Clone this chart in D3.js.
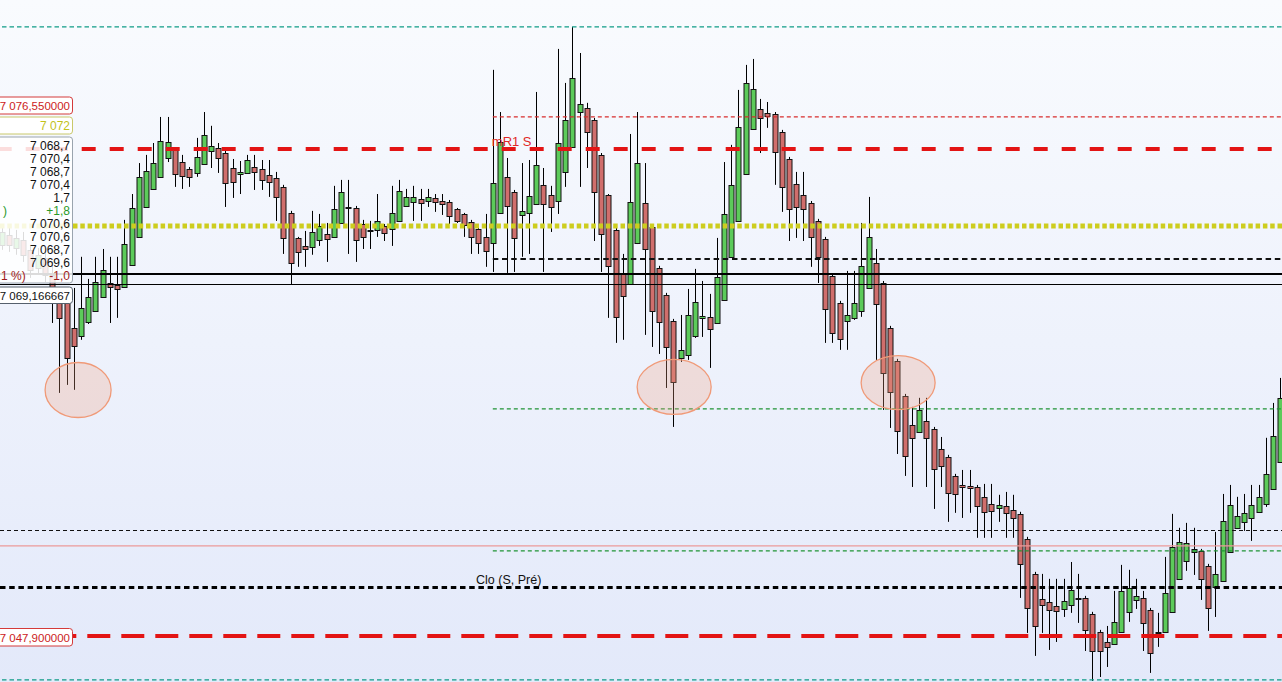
<!DOCTYPE html>
<html><head><meta charset="utf-8">
<script src="https://cdn.jsdelivr.net/npm/d3@7/dist/d3.min.js"></script>
<style>html,body{margin:0;padding:0;overflow:hidden;background:#fff}svg{display:block}</style>
</head><body>
<svg id="chart" width="1282" height="682"></svg>
<script>
// ---------- DATA ----------
const firstBar = -7;   // bar number of the first value below
const openP = [
7070.89,7071.48,7070.71,7071.18,7070.60,7069.54,7070.13,
7069.13,7067.77,7067.66,7066.01,7065.54,7066.36,7067.01,7067.83,7068.65,7068.54,
7068.42,7069.72,7071.36,7073.12,7074.18,7074.89,7076.00,7076.47,7075.76,7075.35,
7075.12,7075.64,7076.41,7076.59,7076.29,7075.41,7075.06,7075.12,7075.47,7075.35,
7075.00,7074.83,7074.30,7072.77,7071.30,7070.83,7070.77,7071.18,7071.53,7071.36,
7072.18,7073.09,7073.06,7072.12,7071.77,7071.77,7072.01,7071.83,7072.30,7073.18,
7073.41,7073.59,7073.47,7073.65,7073.47,7073.41,7073.00,7072.71,7072.24,7071.83,
7071.36,7071.00,7072.77,7074.89,7074.00,7072.65,7072.77,7073.29,7074.42,7073.83,
7073.47,7075.18,7076.65,7078.70,7078.94,7078.24,7076.18,7073.83,7071.77,7069.24,
7068.59,7071.00,7073.35,7071.94,7069.54,7067.95,7066.42,7064.25,7064.42,7065.54,
7066.60,7066.66,7066.30,7067.66,7070.19,7072.30,7075.06,7077.71,7078.88,7078.65,
7078.59,7077.53,7075.94,7074.47,7073.83,7073.35,7072.30,7071.24,7069.07,7067.48,
7066.42,7066.60,7067.01,7068.36,7069.83,7068.65,7066.01,7064.07,7062.01,7060.31,
7059.90,7060.54,7060.07,7058.90,7058.43,7057.31,7056.78,7056.72,7056.66,7056.08,
7055.67,7055.43,7055.55,7055.31,7055.08,7053.61,7051.55,7050.08,7049.90,7049.67,
7049.49,7049.73,7050.14,7050.14,7049.20,7048.14,7047.55,7047.43,7048.14,7049.32,
7050.02,7050.14,7049.44,7048.14,7048.14,7049.32,7051.26,7052.31,7052.84,7052.90,
7052.02,7050.79,7051.14,7052.84,7054.26,7054.61,7054.84,7055.20,7055.67,7056.55,7058.13];
const highP = [
7072.07,7071.89,7071.77,7071.65,7070.89,7070.71,7070.48,
7069.89,7068.24,7068.12,7068.36,7070.19,7068.89,7070.19,7070.65,7070.19,7070.19,
7072.36,7073.88,7075.70,7076.18,7076.88,7078.41,7078.41,7076.59,7076.18,7075.47,
7077.18,7078.70,7077.89,7076.88,7076.41,7075.94,7075.82,7076.18,7076.18,7075.88,
7075.88,7075.18,7074.42,7072.89,7071.36,7071.71,7072.89,7072.71,7072.18,7074.36,
7074.71,7074.71,7073.18,7072.36,7072.30,7073.88,7072.12,7074.36,7074.71,7074.18,
7074.36,7074.18,7074.18,7073.88,7073.88,7073.53,7073.06,7072.77,7072.36,7071.89,
7072.71,7081.18,7078.70,7076.00,7074.12,7075.70,7075.88,7079.88,7075.41,7074.36,
7082.41,7080.41,7083.70,7082.17,7079.24,7078.35,7076.29,7073.88,7071.89,7070.36,
7077.41,7078.70,7075.70,7072.07,7069.66,7068.07,7066.54,7066.77,7068.30,7069.48,
7068.77,7068.01,7071.30,7075.76,7076.77,7080.00,7081.47,7081.82,7079.47,7079.29,
7078.70,7077.65,7076.06,7075.18,7075.18,7073.47,7072.42,7071.36,7069.18,7067.60,
7069.36,7069.36,7072.18,7073.71,7070.65,7068.77,7066.13,7064.19,7062.13,7061.37,
7061.90,7061.90,7060.19,7059.60,7058.55,7057.43,7057.66,7057.66,7056.78,7056.84,
7056.84,7056.20,7056.37,7056.20,7055.20,7053.73,7051.67,7051.55,7051.26,7051.26,
7051.26,7052.25,7051.55,7050.26,7049.32,7048.26,7048.49,7050.55,7052.08,7051.79,
7051.26,7050.55,7049.55,7049.26,7052.55,7055.08,7054.26,7054.55,7054.26,7053.02,
7052.14,7054.02,7056.25,7056.78,7056.08,7056.25,7056.78,7056.78,7059.55,7061.60,7063.07];
const lowP = [
7070.60,7070.48,7070.31,7069.89,7068.95,7069.13,7068.71,
7066.30,7062.19,7062.66,7062.37,7065.31,7066.24,7066.95,7067.77,7066.30,7066.60,
7068.36,7069.66,7071.30,7073.06,7074.12,7074.83,7075.76,7074.30,7074.18,7074.30,
7074.89,7075.59,7075.41,7075.12,7073.12,7073.65,7073.88,7075.06,7074.12,7074.12,
7073.71,7072.30,7070.36,7068.54,7069.60,7069.60,7070.31,7070.83,7069.89,7071.30,
7072.12,7070.36,7069.89,7070.65,7070.65,7071.36,7071.12,7070.83,7072.24,7073.12,
7072.30,7072.30,7073.12,7072.83,7072.65,7072.12,7072.18,7071.36,7070.36,7070.36,
7069.60,7069.30,7072.71,7069.24,7069.30,7070.19,7070.36,7073.24,7069.30,7071.65,
7072.71,7074.30,7076.59,7074.30,7075.41,7071.12,7069.30,7066.60,7065.13,7065.31,
7068.54,7070.94,7065.60,7064.89,7064.48,7062.48,7060.19,7064.01,7064.13,7065.42,
7065.48,7063.66,7066.24,7067.60,7070.13,7072.24,7075.00,7077.65,7076.29,7077.77,
7074.42,7072.83,7071.12,7071.30,7071.12,7069.60,7068.65,7065.13,7065.13,7064.72,
7064.72,7066.48,7066.66,7068.30,7064.13,7061.19,7060.13,7058.60,7057.31,7056.66,
7059.84,7056.66,7055.37,7056.66,7054.61,7055.14,7054.84,7055.14,7053.67,7053.67,
7053.67,7054.61,7053.67,7053.67,7050.14,7048.08,7046.73,7048.08,7047.08,7047.55,
7049.02,7049.26,7048.67,7047.02,7045.26,7045.49,7046.08,7047.37,7048.08,7048.73,
7049.49,7047.02,7045.73,7047.26,7048.08,7049.26,7051.20,7051.73,7051.49,7050.02,
7048.20,7049.02,7051.08,7052.78,7054.20,7054.08,7053.49,7055.14,7055.49,7056.49,7058.08];
const closeP = [
7071.65,7070.89,7071.30,7070.31,7069.42,7070.31,7069.13,
7067.66,7066.60,7064.25,7064.96,7067.19,7067.83,7068.71,7069.42,7068.42,7068.30,
7070.94,7073.06,7074.89,7075.24,7075.70,7077.00,7076.94,7075.06,7074.95,7074.89,
7076.06,7077.35,7076.71,7076.00,7074.53,7074.59,7075.18,7075.88,7075.18,7074.71,
7074.59,7073.71,7071.30,7069.83,7070.48,7070.65,7071.65,7072.01,7071.24,7073.00,
7074.00,7073.03,7071.18,7071.36,7071.74,7072.30,7071.59,7072.77,7074.06,7073.71,
7073.71,7073.35,7073.71,7073.41,7073.29,7072.59,7072.30,7072.07,7071.36,7071.00,
7070.54,7074.53,7076.94,7073.18,7071.30,7072.89,7073.77,7075.59,7073.29,7073.12,
7076.88,7078.24,7080.70,7079.18,7077.53,7074.00,7071.53,7069.66,7066.66,7067.89,
7073.41,7075.70,7070.65,7067.01,7066.36,7064.89,7062.83,7064.72,7066.77,7067.54,
7066.71,7065.95,7069.01,7072.71,7074.42,7077.83,7080.41,7080.06,7078.35,7078.47,
7076.35,7074.30,7073.00,7073.12,7073.00,7071.36,7070.19,7067.13,7065.71,7065.36,
7066.77,7067.48,7069.66,7071.36,7067.42,7063.36,7062.25,7059.96,7058.49,7059.55,
7061.19,7059.55,7057.72,7057.90,7056.31,7056.25,7056.66,7056.60,7055.55,7055.20,
7055.25,7055.61,7055.14,7054.84,7052.14,7049.55,7048.49,7049.73,7049.44,7049.38,
7049.96,7050.61,7050.11,7048.26,7047.02,7047.02,7047.26,7048.73,7050.55,7050.73,
7050.26,7048.67,7046.90,7048.11,7050.43,7053.14,7053.43,7053.37,7053.02,7051.26,
7049.55,7051.55,7054.67,7055.61,7054.96,7055.14,7055.61,7056.08,7057.43,7059.66,7061.90];

// horizontal levels (prices)
const levelTealTop = 7083.70;
const levelPrevHigh = 7078.41;
const levelMR1 = 7076.55;
const levelYellow = 7072;
const levelDashBlack = 7070.07;
const levelAvg = 7069.166667;
const levelThin = 7068.59;
const levelGreenUp = 7061.25;
const levelThinDash = 7054.14;
const levelPink = 7053.20;
const levelGreenLow = 7052.90;
const levelClo = 7050.79;
const levelLow = 7047.9;
const levelTealBottom = 7045.32;
const sessionStartBar = 61;

// highlighted zones: [bar, price]
const zones = [[3.6, 7062.36], [86.1, 7062.54], [117.1, 7062.79]];

// side panel texts
const boxTop = "7 076,550000";
const boxYellow = "7 072";
const panelRows = ["7 068,7","7 070,4","7 068,7","7 070,4","1,7","+1,8","7 070,6","7 070,6","7 068,7","7 069,6","-1,0"];
const panelTailUp = ")";
const panelTailDown = "1 %)";
const boxAvg = "7 069,166667";
const boxLow = "7 047,900000";
const labelMR1 = "mR1 S";
const labelClo = "Clo (S, Pré)";

// ---------- CHART ----------
const W = 1282, H = 682;
const svg = d3.select("#chart");
const bars = openP.map((o, i) => ({ i: firstBar + i, o, h: highP[i], l: lowP[i], c: closeP[i] }));

const x = d3.scaleLinear().domain([0, 170]).range([52.08, 52.08 + 170 * 7.225]);
const y = d3.scaleLinear().domain([7045.196, 7085.285]).range([H, 0]);

const defs = svg.append("defs");
const g = defs.append("linearGradient").attr("id", "bg").attr("x1", 0).attr("y1", 0).attr("x2", 0).attr("y2", 1);
g.append("stop").attr("offset", "0%").attr("stop-color", "#f9fbfe");
g.append("stop").attr("offset", "100%").attr("stop-color", "#e3e9fa");
svg.append("rect").attr("width", W).attr("height", H).attr("fill", "url(#bg)");

// candles
const cg = svg.append("g");
cg.selectAll("line.wick").data(bars).join("line")
  .attr("x1", d => Math.round(x(d.i)) + 0.5).attr("x2", d => Math.round(x(d.i)) + 0.5)
  .attr("y1", d => y(d.h)).attr("y2", d => y(d.l))
  .attr("stroke", "#000").attr("stroke-width", 1);
cg.selectAll("rect.body").data(bars).join("rect")
  .attr("x", d => Math.round(x(d.i)) - 2)
  .attr("width", 5)
  .attr("y", d => Math.round(y(Math.max(d.o, d.c))) + 0.5)
  .attr("height", d => Math.max(1, Math.round(y(Math.min(d.o, d.c)) - y(Math.max(d.o, d.c)))))
  .attr("fill", d => d.c >= d.o ? "#5ccb5a" : "#d06e6c")
  .attr("stroke", "#111").attr("stroke-width", 1);

// level lines
function hline(price, x1, opts) {
  const yy = opts.snap ? Math.round(y(price)) + (opts.w % 2 === 1 ? 0.5 : 0) : y(price);
  svg.append("line").attr("x1", x1).attr("x2", W)
    .attr("y1", yy).attr("y2", yy)
    .attr("stroke", opts.color).attr("stroke-width", opts.w)
    .attr("stroke-dasharray", opts.dash || null);
}
const xs = x(sessionStartBar);
hline(levelTealTop, 2, { color: "#0f9c86", w: 1.2, dash: "4.5,3" });
hline(levelPrevHigh, xs, { color: "#d82c2c", w: 1.2, dash: "4,3" });
hline(levelMR1, -2.3, { color: "#e31414", w: 4, dash: "14,14", snap: true });
hline(levelYellow, 0, { color: "#cdcd1e", w: 5, dash: "4.5,2.8" });
hline(levelDashBlack, xs, { color: "#111", w: 2, dash: "5.5,3.7", snap: true });
hline(levelAvg, 0, { color: "#000", w: 2, snap: true });
hline(levelThin, 0, { color: "#000", w: 1, snap: true });
hline(levelGreenUp, xs, { color: "#1f9334", w: 1.2, dash: "4,3" });
hline(levelThinDash, 0, { color: "#111", w: 1, dash: "4,3", snap: true });
hline(levelPink, 0, { color: "#ec9a9a", w: 1.2 });
hline(levelGreenLow, xs, { color: "#1f9334", w: 1.2, dash: "4,3" });
hline(levelClo, 0, { color: "#000", w: 3, dash: "5.5,3.7", snap: true });
hline(levelLow, -14.7, { color: "#e31414", w: 4, dash: "23,11", snap: true });
hline(levelTealBottom, 2, { color: "#0f9c86", w: 1.2, dash: "4.5,3" });

const font = "Liberation Sans, Arial, sans-serif";
svg.append("text").attr("x", xs - 1).attr("y", y(levelMR1) - 3)
  .attr("font-family", font).attr("font-size", 13)
  .attr("fill", "#e02828").text(labelMR1);
svg.append("text").attr("x", 476).attr("y", y(levelClo) - 3)
  .attr("font-family", font).attr("font-size", 12.5)
  .attr("fill", "#111").text(labelClo);

// zones
const zr = [[33, 27.5], [37, 27.5], [37, 27]];
svg.selectAll("ellipse.zone").data(zones).join("ellipse")
  .attr("cx", d => x(d[0])).attr("cy", d => y(d[1]))
  .attr("rx", (d, i) => zr[i][0]).attr("ry", (d, i) => zr[i][1])
  .attr("fill", "rgba(240,160,130,0.28)").attr("stroke", "#f09a78").attr("stroke-width", 1.3);

// left boxes
function box(y0, h, border, fill) {
  svg.append("rect").attr("x", -3).attr("y", y0).attr("width", 75.5).attr("height", h)
    .attr("rx", 3).attr("fill", fill).attr("stroke", border).attr("stroke-width", 1);
}
function rtext(txt, yy, color, size) {
  svg.append("text").attr("x", 70).attr("y", yy).attr("text-anchor", "end")
    .attr("font-family", font).attr("font-size", size || 12).attr("fill", color).text(txt);
}
box(97, 17, "#d43a3a", "#ffffff");
rtext(boxTop, 110, "#cc2222", 11.5);
box(117, 17, "#c9c86a", "#ffffff");
rtext(boxYellow, 130, "#c2c21a");
box(137, 146, "#9aa4ae", "rgba(255,255,255,0.86)");
const rowColors = panelRows.map(t => t.startsWith("+") ? "#2a9a2a" : t.startsWith("-") ? "#a01c1c" : "#111");
panelRows.forEach((t, i) => rtext(t, 149.5 + i * 13, rowColors[i]));
svg.append("text").attr("x", 3).attr("y", 149.5 + 5 * 13)
  .attr("font-family", font).attr("font-size", 12).attr("fill", "#2a9a2a").text(panelTailUp);
svg.append("text").attr("x", 1).attr("y", 149.5 + 10 * 13)
  .attr("font-family", font).attr("font-size", 12).attr("fill", "#a01c1c").text(panelTailDown);
box(287, 16.5, "#56606c", "#ffffff");
rtext(boxAvg, 300, "#111", 11.5);
box(628.5, 17.5, "#d43a3a", "#ffffff");
rtext(boxLow, 641.5, "#cc2222", 11.5);
</script>
</body></html>
